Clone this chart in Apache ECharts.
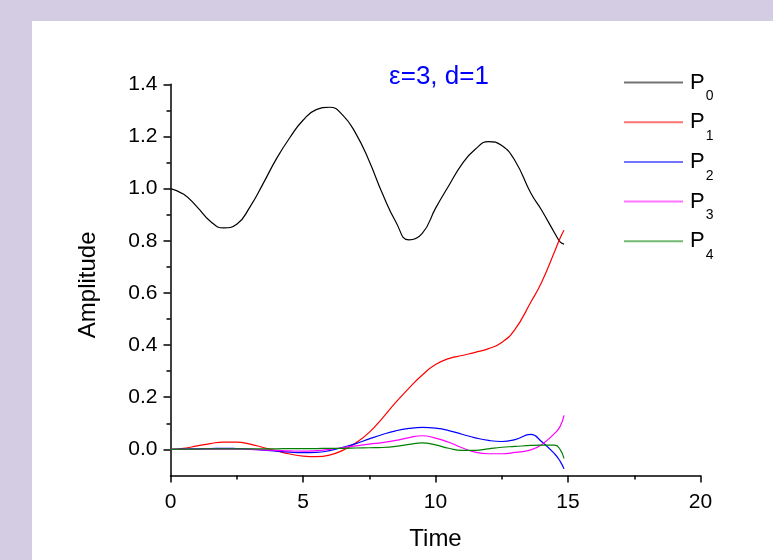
<!DOCTYPE html>
<html>
<head>
<meta charset="utf-8">
<script src="https://cdn.jsdelivr.net/npm/echarts@6/dist/echarts.min.js"></script>
<style>
  html, body { margin: 0; padding: 0; background: #d4cce2; }
  #chart { width: 773px; height: 560px; }
</style>
</head>
<body>
<div id="chart"></div>
<script>
// Sample times shared by all probability curves
const time = [0, 0.5, 1, 1.5, 2, 2.5, 3, 3.5, 4, 4.5, 5, 5.5, 6, 6.5, 7, 7.5, 8, 8.5, 9, 9.5,
              10, 10.5, 11, 11.5, 12, 12.5, 13, 13.6, 14, 14.5, 14.7, 14.85];

const P0 = [1.0, 0.978, 0.93, 0.875, 0.849, 0.863, 0.93, 1.02, 1.115, 1.195, 1.262, 1.303, 1.312, 1.282, 1.21, 1.105,
            0.98, 0.873, 0.803, 0.828, 0.924, 1.011, 1.094, 1.151, 1.18, 1.165, 1.107, 0.982, 0.918, 0.829, 0.796, 0.787];
const P1 = [0, 0.004, 0.013, 0.022, 0.028, 0.028, 0.02, 0.007, -0.006, -0.018, -0.026, -0.028, -0.022, -0.004, 0.025, 0.065,
            0.12, 0.18, 0.235, 0.285, 0.325, 0.348, 0.36, 0.372, 0.386, 0.41, 0.46, 0.565, 0.64, 0.76, 0.81, 0.84];
const P2 = [0, 0.001, 0.002, 0.003, 0.004, 0.003, 0.001, -0.003, -0.007, -0.011, -0.013, -0.012, -0.005, 0.008, 0.022, 0.04,
            0.057, 0.071, 0.08, 0.084, 0.081, 0.072, 0.058, 0.044, 0.034, 0.03, 0.037, 0.057, 0.03, -0.018, -0.045, -0.075];
const P3 = [0, 0, 0, 0.001, 0.001, 0.001, 0, -0.002, -0.004, -0.006, -0.007, -0.005, 0, 0.006, 0.013, 0.02,
            0.026, 0.034, 0.045, 0.052, 0.043, 0.027, 0.006, -0.011, -0.017, -0.017, -0.012, -0.002, 0.018, 0.062, 0.087, 0.13];
const P4 = [0, 0.001, 0.001, 0.002, 0.002, 0.002, 0.002, 0.002, 0.002, 0.003, 0.003, 0.003, 0.004, 0.004, 0.005, 0.006,
            0.007, 0.011, 0.019, 0.025, 0.017, 0.004, -0.004, -0.004, 0.002, 0.008, 0.011, 0.015, 0.016, 0.016, 0.0, -0.035];

const seriesNames = ['P0', 'P1', 'P2', 'P3', 'P4'];
const seriesValues = [P0, P1, P2, P3, P4];
const seriesColors = ['#000000', '#ff0000', '#0000ff', '#ff00ff', '#008000'];

const xTicks = [0, 5, 10, 15, 20];
const yMajorTicks = [0, 0.2, 0.4, 0.6, 0.8, 1.0, 1.2, 1.4];
const yMinorTicks = [0.1, 0.3, 0.5, 0.7, 0.9, 1.1, 1.3];

const titleText = 'ε=3, d=1';
const FONT = '"Liberation Sans", Arial, sans-serif';

const chart = echarts.init(document.getElementById('chart'), null, { renderer: 'canvas' });

const series = seriesNames.map((name, i) => ({
  name: name,
  type: 'line',
  data: time.map((t, k) => [t, seriesValues[i][k]]),
  showSymbol: false,
  smooth: 0.5,
  yAxisIndex: 0,
  color: seriesColors[i],
  lineStyle: { width: 1.2, color: seriesColors[i] },
  emphasis: { disabled: true }
}));

const axisLineStyle = { color: '#000', width: 1.5 };

chart.setOption({
  backgroundColor: '#d4cce2',
  animation: false,
  textStyle: { fontFamily: FONT },
  graphic: [{
    type: 'rect',
    z: -10,
    silent: true,
    shape: { x: 32, y: 21, width: 741, height: 539 },
    style: { fill: '#ffffff' }
  }],
  title: {
    text: titleText,
    left: 439,
    top: 64,
    textAlign: 'center',
    padding: 0,
    textStyle: { color: '#0000ff', fontSize: 26, fontWeight: 'normal', fontFamily: FONT }
  },
  legend: {
    orient: 'vertical',
    left: 624,
    top: 71.5,
    padding: 0,
    itemGap: 7.7,
    itemWidth: 59,
    itemHeight: 2,
    icon: 'rect',
    itemStyle: { opacity: 0.55 },
    data: seriesNames,
    formatter: (name) => '{a|P}{b|' + name.slice(1) + '}',
    textStyle: {
      fontFamily: FONT,
      color: '#000',
      rich: {
        a: { fontSize: 22, fontFamily: FONT, color: '#000', padding: [0, 0, 0, 2] },
        b: { fontSize: 14, fontFamily: FONT, color: '#000', lineHeight: 14,
             verticalAlign: 'top', padding: [18, 0, 0, 1] }
      }
    }
  },
  grid: {
    left: 170.5,
    right: 72.5,
    top: 84.3,
    bottom: 84.6,
    containLabel: false,
    outerBoundsMode: 'none'
  },
  xAxis: {
    type: 'value',
    min: 0,
    max: 20,
    interval: 5,
    name: 'Time',
    nameLocation: 'middle',
    nameGap: 52,
    nameTextStyle: { fontSize: 24, color: '#000', fontFamily: FONT },
    axisLine: { show: true, onZero: false, lineStyle: axisLineStyle },
    axisTick: { show: true, inside: false, length: 7, lineStyle: axisLineStyle },
    minorTick: { show: true, splitNumber: 2, length: 4, lineStyle: axisLineStyle },
    axisLabel: {
      fontSize: 21, color: '#000', margin: 16, fontFamily: FONT,
      customValues: xTicks
    },
    splitLine: { show: false },
    minorSplitLine: { show: false }
  },
  yAxis: [{
    type: 'value',
    position: 'left',
    min: -0.1,
    max: 1.4,
    interval: 0.1,
    name: 'Amplitude',
    nameLocation: 'middle',
    nameGap: 70,
    nameTextStyle: { fontSize: 24, color: '#000', fontFamily: FONT, padding: [0, 10, 0, 0] },
    axisLine: { show: true, onZero: false, lineStyle: axisLineStyle },
    axisTick: { show: true, inside: false, length: 7, lineStyle: axisLineStyle, customValues: yMajorTicks },
    axisLabel: {
      fontSize: 21, color: '#000', margin: 13, fontFamily: FONT,
      customValues: yMajorTicks,
      formatter: (v) => v.toFixed(1)
    },
    splitLine: { show: false }
  }, {
    type: 'value',
    position: 'left',
    min: -0.1,
    max: 1.4,
    interval: 0.1,
    axisLine: { show: false, onZero: false },
    axisTick: { show: true, inside: false, length: 4, lineStyle: axisLineStyle, customValues: yMinorTicks },
    axisLabel: { show: false },
    splitLine: { show: false }
  }],
  series: series
});
</script>
</body>
</html>
